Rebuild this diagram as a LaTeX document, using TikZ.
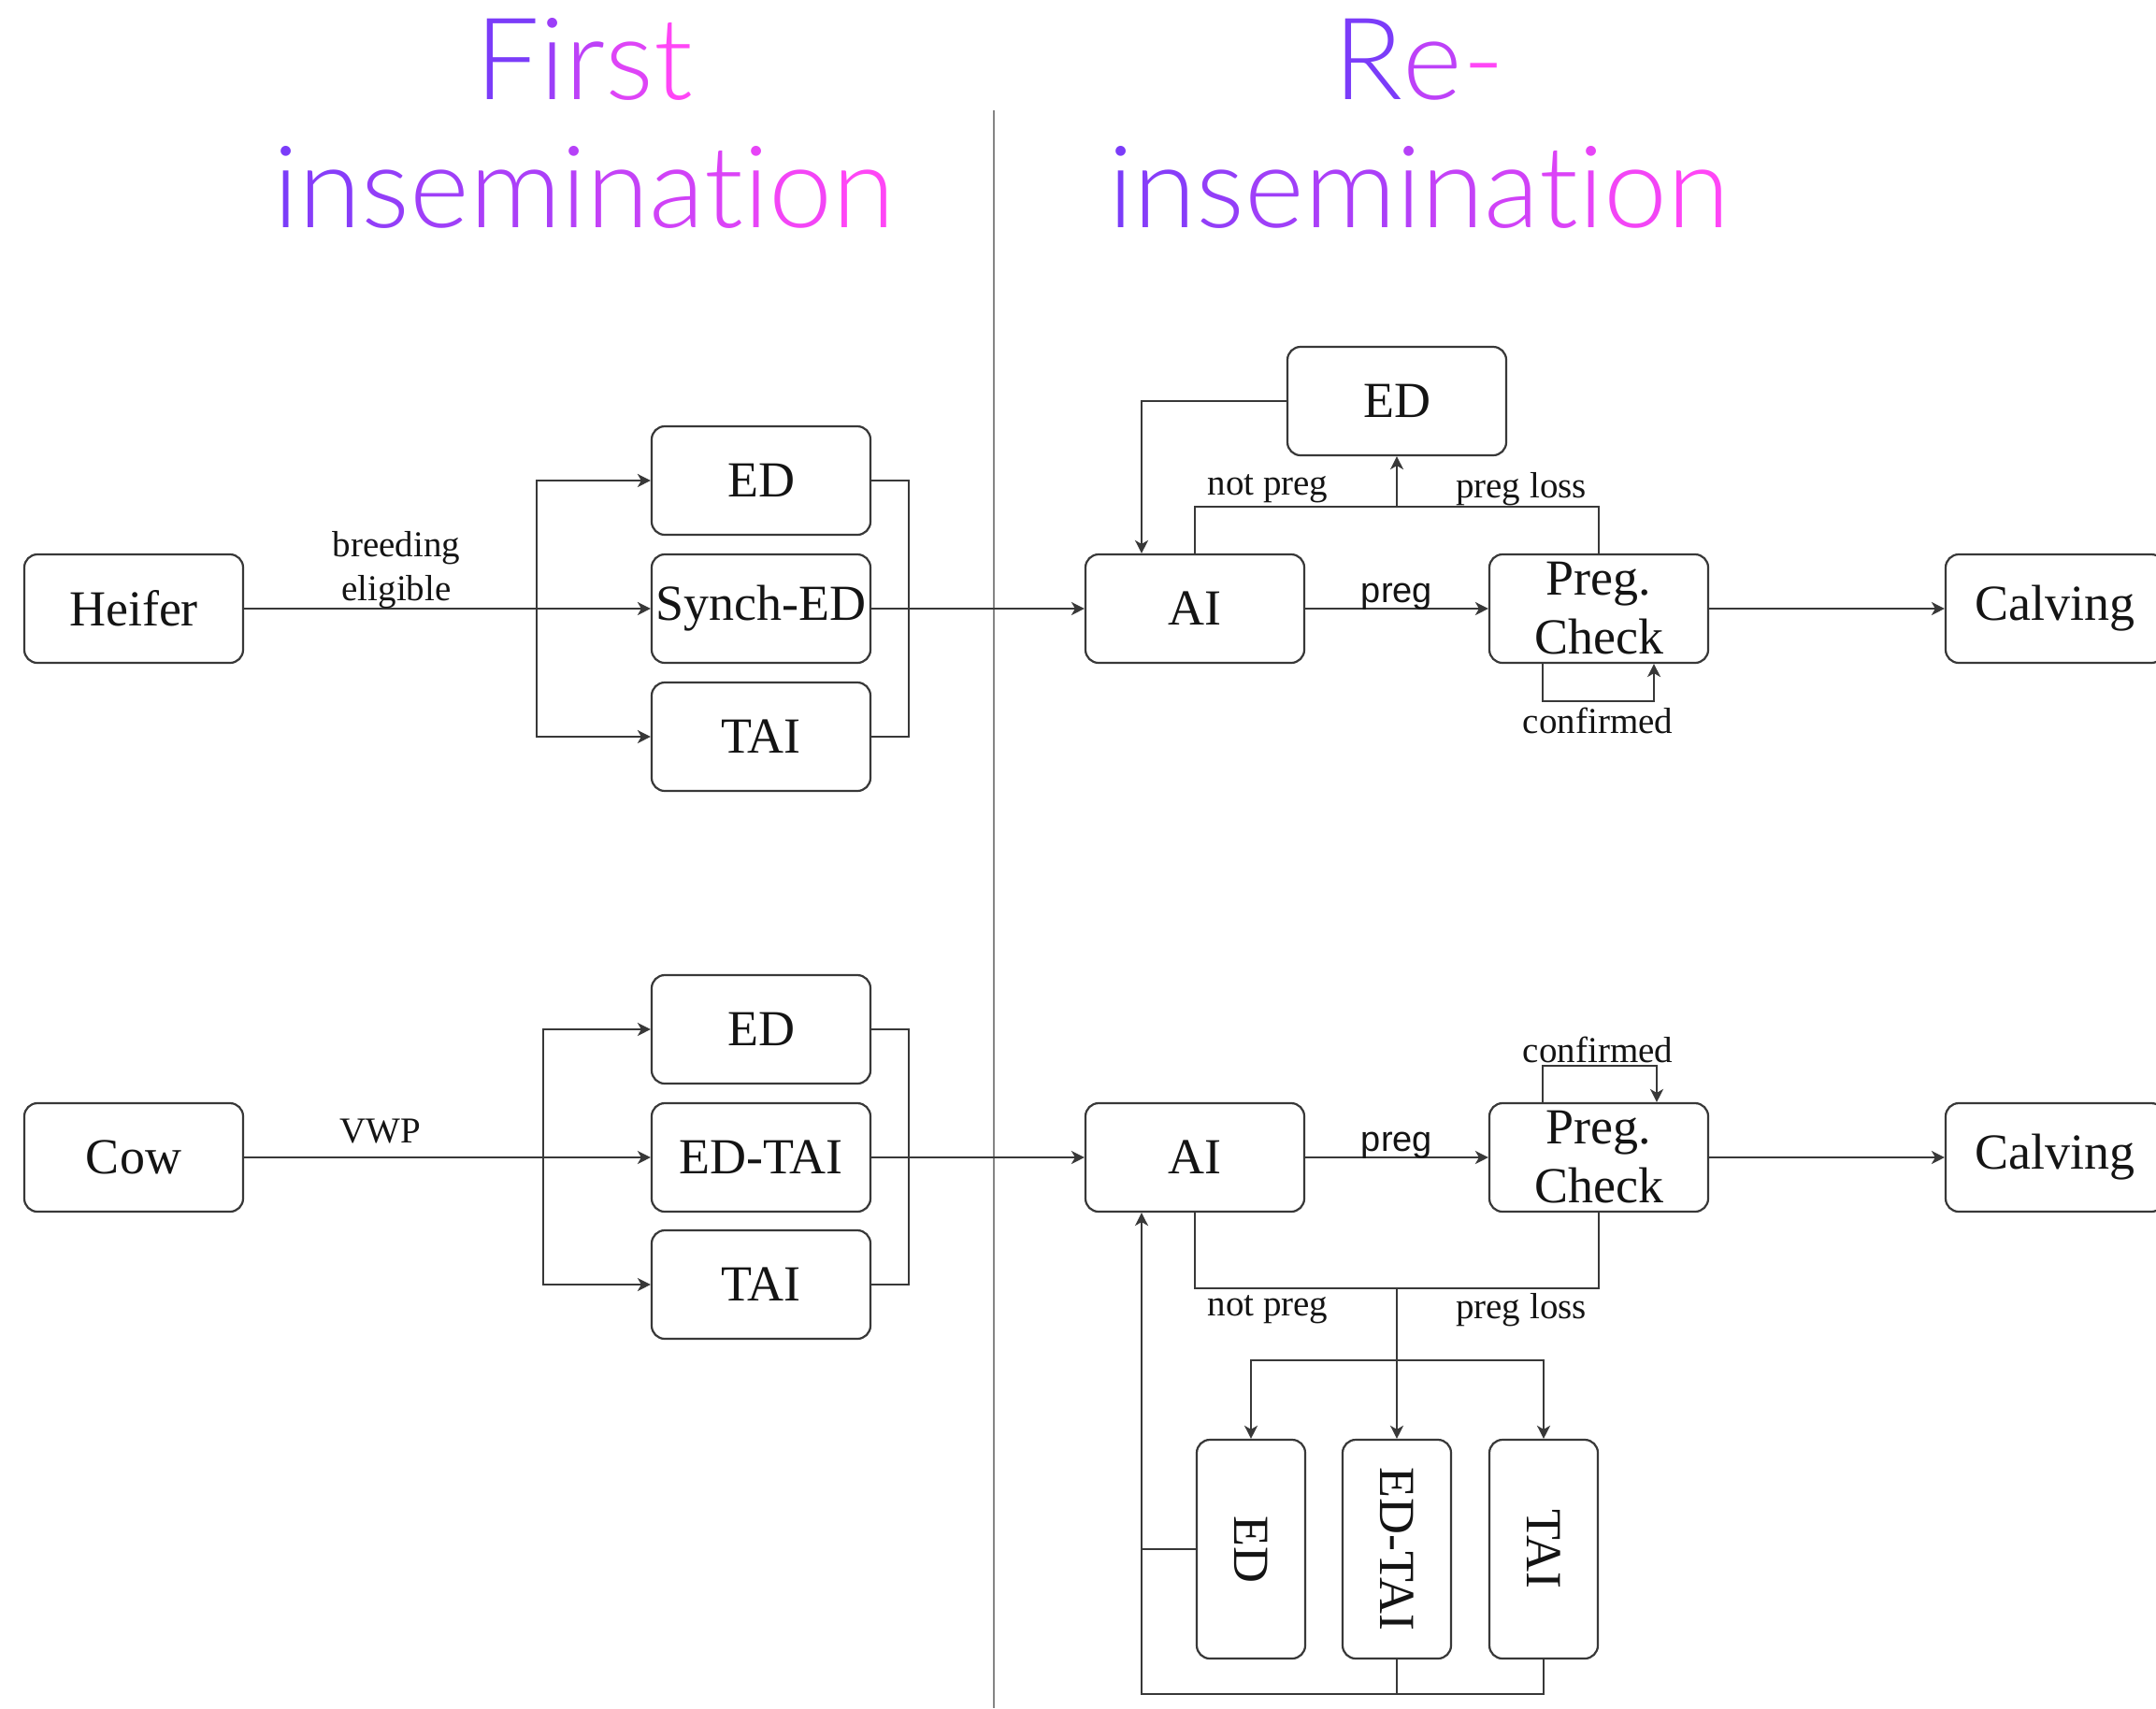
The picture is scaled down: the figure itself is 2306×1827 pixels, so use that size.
\documentclass[tikz,border=0pt]{standalone}
\usepackage{fontspec}
\setmainfont{Liberation Serif}
\newfontfamily\labelsans{Liberation Sans}
\newfontfamily\titlefont{Lato Light}
\usetikzlibrary{arrows.meta}

\definecolor{violetT}{HTML}{7B3CF9}
\definecolor{pinkT}{HTML}{FF46F6}
\definecolor{linegray}{HTML}{383838}
\definecolor{divgray}{HTML}{858585}

% one letter of a title, coloured along the violet-to-pink ramp
\newcommand\gl[2]{\textcolor{pinkT!#1!violetT}{#2}}
\newcommand\inseminationword{\gl{0}{i}\gl{9}{n}\gl{18}{s}\gl{27}{e}\gl{36}{m}\gl{45}{i}\gl{55}{n}\gl{64}{a}\gl{73}{t}\gl{82}{i}\gl{91}{o}\gl{100}{n}}

\tikzset{
  box/.style={draw=linegray, line width=1.1pt, rounded corners=7pt,
    minimum width=117pt, minimum height=58pt, inner sep=0pt, align=center,
    text=black!92, font=\fontsize{27}{31.5}\selectfont},
  link/.style={draw=linegray, line width=1.1pt},
  flow/.style={link, -{Stealth[length=7pt,width=7pt,inset=2pt]}},
  lbl/.style={inner sep=0pt, text=black!92, font=\fontsize{19.5}{23.5}\selectfont},
  lblsans/.style={lbl, font=\labelsans\fontsize{19}{22}\selectfont},
  title/.style={anchor=base, inner sep=0pt, font=\titlefont\fontsize{61}{63}\selectfont},
}

\begin{document}
\begin{tikzpicture}[x=0.5pt, y=-0.5pt]
\useasboundingbox (0,0) rectangle (2306,1827);

% section titles
\node[title] (tFirst) at (625,106) {\gl{0}{F}\gl{25}{i}\gl{50}{r}\gl{75}{s}\gl{100}{t}};
\node[title] (tInsA) at (625,243) {\inseminationword};
\node[title] (tRe) at (1518,106) {\gl{0}{R}\gl{50}{e}\gl{100}{-}};
\node[title] (tInsB) at (1518,243) {\inseminationword};

% divider between the two stages
\coordinate (divTop) at (1063,118);
\coordinate (divBot) at (1063,1827);
\draw[divgray, line width=1.1pt] (divTop) -- (divBot);

% ---------- heifers ----------
\node[box] (heifer) at (143,651) {Heifer};
\node[box] (edA) at (814,514) {ED};
\node[box] (synch) at (814,651) {Synch-ED};
\node[box] (taiA) at (814,788) {TAI};
\node[box] (aiA) at (1278,651) {AI};
\node[box] (edR) at (1494,429) {ED};
\node[box] (pcA) at (1710,651) {Preg.\\Check};
\node[box] (calvA) at (2198,651) {Calving};

\draw[flow] (heifer) -- (synch);
\node[lbl, align=center] (lbBreed) at (424,610) {breeding\\eligible};
\coordinate (brA) at (574,651);
\draw[flow] (brA) |- (edA);
\draw[flow] (brA) |- (taiA);
\draw[link] (edA.east) -- ++(40,0) |- (taiA.east);
\draw[flow] (synch) -- (aiA);

\draw[flow] (aiA) -- (pcA);
\node[lblsans] (lbPregA) at (1494,638) {preg};
\draw[link] (aiA.north) -- ++(0,-50) -| (pcA.north);
\coordinate (jTopA) at (1494,543);
\draw[flow] (jTopA) -- (edR.south);
\coordinate (retTop) at (1221,429);
\draw[flow] (edR.west) -- (retTop) -- (retTop |- aiA.north);
\node[lbl] (lbNotA) at (1356,523) {not preg};
\node[lbl] (lbLossA) at (1627,523) {preg loss};

\draw[flow] ([xshift=-30pt]pcA.south) -- ++(0,40) -| ([xshift=29.5pt]pcA.south);
\node[lbl] (lbConfA) at (1709,771) {confirmed};
\draw[flow] (pcA) -- (calvA);

% ---------- cows ----------
\node[box] (cow) at (143,1238) {Cow};
\node[box] (edB) at (814,1101) {ED};
\node[box] (edtai) at (814,1238) {ED-TAI};
\node[box] (taiB) at (814,1374) {TAI};
\node[box] (aiB) at (1278,1238) {AI};
\node[box] (pcB) at (1710,1238) {Preg.\\Check};
\node[box] (calvB) at (2198,1238) {Calving};
\node[box, rotate=-90] (edV) at (1338,1657) {ED};
\node[box, rotate=-90] (edtaiV) at (1494,1657) {ED-TAI};
\node[box, rotate=-90] (taiV) at (1651,1657) {TAI};

\draw[flow] (cow) -- (edtai);
\node[lbl] (lbVWP) at (407,1210) {VWP};
\coordinate (brB) at (581,1238);
\draw[flow] (brB) |- (edB);
\draw[flow] (brB) |- (taiB);
\draw[link] (edB.east) -- ++(40,0) |- (taiB.east);
\draw[flow] (edtai) -- (aiB);

\draw[flow] (aiB) -- (pcB);
\node[lblsans] (lbPregB) at (1494,1225) {preg};
\draw[flow] ([xshift=-30pt]pcB.north) -- ++(0,-39) -| ([xshift=31pt]pcB.north);
\node[lbl] (lbConfB) at (1709,1123) {confirmed};
\draw[flow] (pcB) -- (calvB);

\draw[link] (aiB.south) -- ++(0,81) -| (pcB.south);
\node[lbl] (lbNotB) at (1356,1401) {not preg};
\node[lbl] (lbLossB) at (1627,1401) {preg loss};
\coordinate (jBot) at (1494,1377);
\draw[flow] (jBot) -- (edtaiV.west);
\coordinate (brC) at (1494,1455);
\draw[flow] (brC) -| (edV.west);
\draw[flow] (brC) -| (taiV.west);

\coordinate (retBot) at (1221,1812);
\draw[flow] (taiV.east) |- (retBot) -- (retBot |- aiB.south);
\draw[link] (edtaiV.east) -- (edtaiV.east |- retBot);
\draw[link] (edV.south) -- (edV.south -| retBot);
\end{tikzpicture}
\end{document}
